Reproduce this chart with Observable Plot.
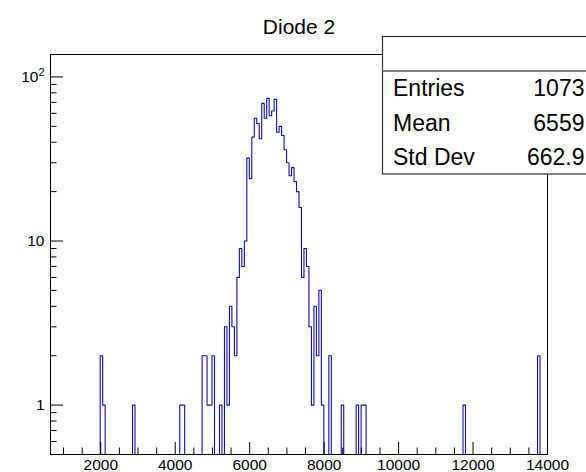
<!DOCTYPE html>
<html>
<head>
<meta charset="utf-8">
<script src="https://cdn.jsdelivr.net/npm/d3@7"></script>
<script src="https://cdn.jsdelivr.net/npm/@observablehq/plot@0.6"></script>
<style>
  html, body { margin: 0; padding: 0; background: #fff; overflow: hidden; }
  #chart { position: relative; width: 586px; height: 472px; }
</style>
</head>
<body>
<div id="chart"></div>
<script>
// Histogram "Diode 2": 200 equal bins between xMin and xMax, log-scale counts
const title = "Diode 2";
const xMin = 650;
const xMax = 14000;
const nBins = 200;

// bin contents, bin 0 .. bin 199
const counts = [
  0, 0, 0, 0, 0, 0, 0, 0, 0, 0, 0, 0, 0, 0, 0, 0, 0, 0, 0, 0,
  2, 1, 0, 0, 0, 0, 0, 0, 0, 0, 0, 0, 0, 1, 0, 0, 0, 0, 0, 0,
  0, 0, 0, 0, 0, 0, 0, 0, 0, 0, 0, 0, 1, 1, 0, 0, 0, 0, 0, 0,
  0, 2, 2, 1, 1, 2, 0, 0, 1, 0, 3, 1, 4, 3, 2, 6, 9, 7, 10, 32,
  24, 43, 56, 52, 42, 69, 56, 74, 58, 62, 73, 46, 50, 44, 36, 30, 25, 28, 23, 20,
  16, 6, 9, 7, 3, 1, 4, 2, 5, 1, 0, 0, 2, 0, 0, 0, 0, 1, 0, 0,
  0, 0, 0, 1, 0, 1, 1, 0, 0, 0, 0, 0, 0, 0, 0, 0, 0, 0, 0, 0,
  0, 0, 0, 0, 0, 0, 0, 0, 0, 0, 0, 0, 0, 0, 0, 0, 0, 0, 0, 0,
  0, 0, 0, 0, 0, 0, 1, 0, 0, 0, 0, 0, 0, 0, 0, 0, 0, 0, 0, 0,
  0, 0, 0, 0, 0, 0, 0, 0, 0, 0, 0, 0, 0, 0, 0, 0, 2, 0, 0, 0
];

// statistics box
const statsLabels = ["Entries", "Mean", "Std Dev"];
const statsValues = ["1073", "6559", "662.9"];

// axis ticks
const xMajorTicks = [2000, 4000, 6000, 8000, 10000, 12000, 14000];
const xMinorTicks = [1000, 1500, 2500, 3000, 3500, 4500, 5000, 5500, 6500, 7000, 7500,
                     8500, 9000, 9500, 10500, 11000, 11500, 12500, 13000, 13500];
const yMajorTicks = [1, 10, 100];
const yMinorTicks = [0.6, 0.7, 0.8, 0.9, 2, 3, 4, 5, 6, 7, 8, 9, 20, 30, 40, 50, 60, 70, 80, 90];
const yDomain = [0.5, 137];

const font = "'Liberation Sans', Arial, Helvetica, sans-serif";
const W = 586, H = 472;
const margin = {top: 54, right: 39, bottom: 18, left: 50};
const frameW = W - margin.left - margin.right;
const frameH = H - margin.top - margin.bottom;

// outline of the histogram: one step per bin, empty bins sit on the lower edge
const binWidth = (xMax - xMin) / nBins;
const outline = counts.map((c, i) => ({x: xMin + i * binWidth, y: c > 0 ? c : yDomain[0]}));
outline.push({x: xMax, y: outline[outline.length - 1].y});

const histColor = "#1010a0";

// powers of ten >= 100 get a raised exponent after drawing
const yLabel = d => d >= 100 ? `10^${Math.round(Math.log10(d))}` : String(d);

const plot = Plot.plot({
  width: W,
  height: H,
  marginTop: margin.top,
  marginRight: margin.right,
  marginBottom: margin.bottom,
  marginLeft: margin.left,
  style: {fontFamily: font, background: "#fff", color: "#000", overflow: "visible"},
  x: {domain: [xMin, xMax]},
  y: {type: "log", domain: yDomain},
  marks: [
    Plot.line(outline, {x: "x", y: "y", curve: "step-after", stroke: histColor, strokeWidth: 1.1}),
    // inward ticks along the bottom and left edges
    Plot.tickX(xMajorTicks, {x: d => d, stroke: "#000", insetTop: frameH - 12}),
    Plot.tickX(xMinorTicks, {x: d => d, stroke: "#000", insetTop: frameH - 6.5}),
    Plot.tickY(yMajorTicks, {y: d => d, stroke: "#000", insetRight: frameW - 13}),
    Plot.tickY(yMinorTicks, {y: d => d, stroke: "#000", insetRight: frameW - 6.5}),
    Plot.frame({stroke: "#000"}),
    Plot.axisX(xMajorTicks, {tickSize: 0, tickPadding: 4, fontSize: 15.5, tickFormat: d => String(d), label: null}),
    Plot.axisY(yMajorTicks, {tickSize: 0, tickPadding: 6, fontSize: 15.5, tickFormat: yLabel, label: null}),
    Plot.text([title], {frameAnchor: "top", dy: -35, fontSize: 21, fill: "#000"})
  ]
});

document.getElementById("chart").appendChild(plot);

const svg = d3.select(plot);

// turn "10^n" labels into 10 with a superscript exponent
svg.selectAll("text").each(function () {
  const t = this.textContent;
  const m = /^10\^(\d+)$/.exec(t);
  if (!m) return;
  const sel = d3.select(this);
  const target = sel.select("tspan").empty() ? sel : sel.select("tspan");
  target.text("10");
  target.append("tspan").attr("dy", "-0.55em").attr("font-size", 11).text(m[1]);
});

// statistics box in the upper right corner
const box = {x: 382.5, y: 36.5, w: 230, h: 137.5, head: 34.5};
const g = svg.append("g").attr("font-family", font).attr("text-anchor", "start");
g.append("rect")
  .attr("x", box.x).attr("y", box.y).attr("width", box.w).attr("height", box.h)
  .attr("fill", "#fff").attr("stroke", "#333").attr("stroke-width", 1.2);
g.append("line")
  .attr("x1", box.x).attr("x2", box.x + box.w)
  .attr("y1", box.y + box.head).attr("y2", box.y + box.head)
  .attr("stroke", "#555").attr("stroke-width", 1.6);
const rowH = (box.h - box.head) / statsLabels.length;
statsLabels.forEach((lab, i) => {
  const yBase = box.y + box.head + rowH * i + rowH / 2 + 8.3;
  g.append("text").attr("x", box.x + 10.5).attr("y", yBase).attr("text-anchor", "start")
    .attr("font-size", 23).attr("fill", "#000").text(lab);
  g.append("text").attr("x", 584.5).attr("y", yBase).attr("text-anchor", "end")
    .attr("font-size", 23).attr("fill", "#000").text(statsValues[i]);
});
</script>
</body>
</html>
